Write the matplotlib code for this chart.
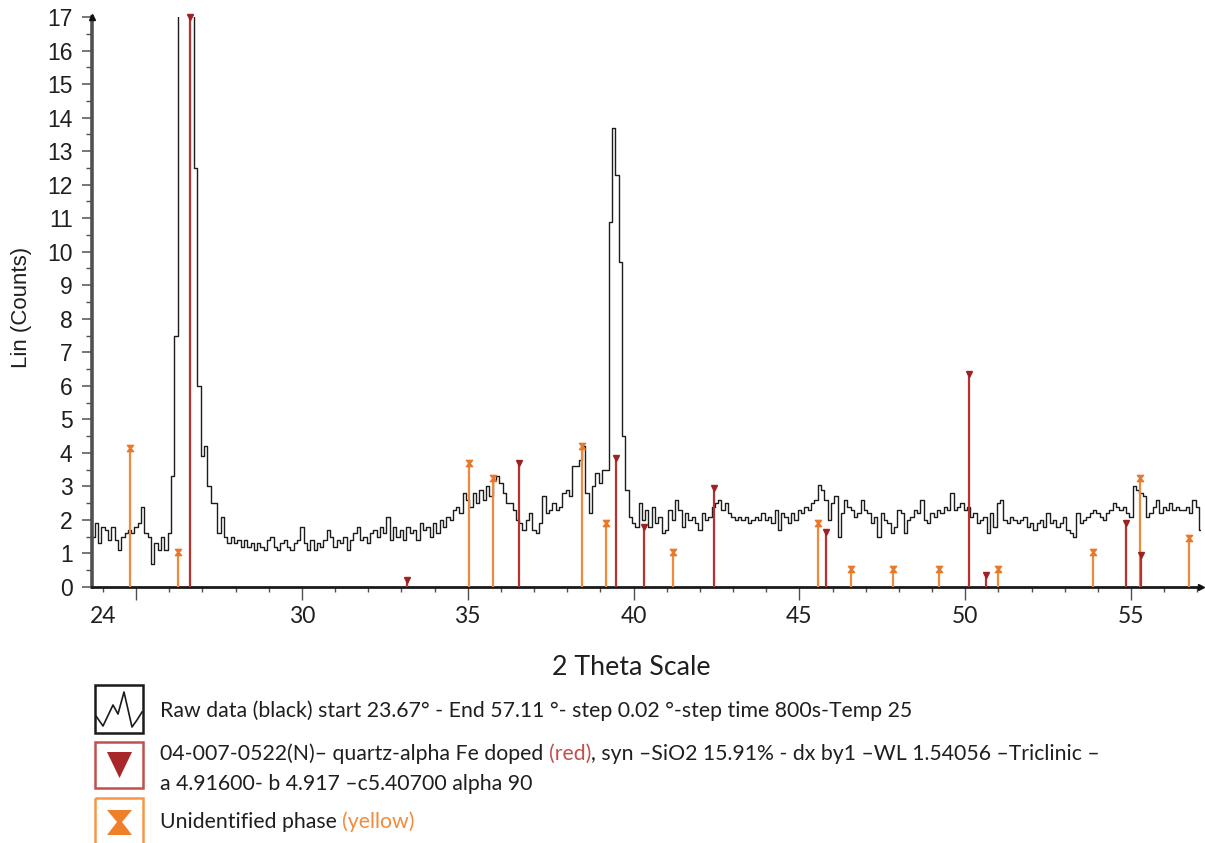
import numpy as np
import matplotlib
matplotlib.use("Agg")
import matplotlib.pyplot as plt
from matplotlib.path import Path
from matplotlib.patches import Rectangle, Polygon
from matplotlib.font_manager import FontProperties

W_PX, H_PX = 1205, 843

# ---------------------------------------------------------------- data
# Raw diffractogram, binned at 0.1 deg starting at 23.7 deg (one row per degree)
scan_start = 23.7
scan_step = 0.1
counts = [
    1.5, 1.9, 1.3,                                            # 23.7-23.9
    1.8, 1.7, 1.4, 1.8, 1.4, 1.1, 1.5, 1.6, 1.7, 1.6,         # 24
    1.8, 1.9, 2.4, 1.6, 1.5, 0.7, 1.3, 1.1, 1.5, 1.1,         # 25
    1.6, 3.3, 7.5, 20.0, 22.0, 22.0, 22.0, 20.0, 12.5, 6.0,   # 26
    3.9, 4.2, 3.0, 2.5, 2.5, 1.6, 2.1, 1.5, 1.3, 1.5,         # 27
    1.3, 1.4, 1.2, 1.4, 1.2, 1.3, 1.1, 1.3, 1.2, 1.1,         # 28
    1.4, 1.5, 1.2, 1.1, 1.3, 1.4, 1.2, 1.1, 1.3, 1.4,         # 29
    1.8, 1.3, 1.1, 1.4, 1.1, 1.3, 1.2, 1.4, 1.7, 1.5,         # 30
    1.2, 1.4, 1.3, 1.5, 1.1, 1.4, 1.6, 1.8, 1.4, 1.5,         # 31
    1.3, 1.6, 1.7, 1.5, 1.8, 1.6, 2.1, 1.4, 1.8, 1.5,         # 32
    1.7, 1.4, 1.8, 1.6, 1.7, 1.4, 1.9, 1.7, 1.8, 1.5,         # 33
    1.9, 1.6, 2.0, 1.8, 2.1, 2.0, 2.3, 2.4, 2.2, 2.8,         # 34
    2.6, 2.4, 2.8, 2.5, 2.9, 2.6, 3.0, 2.7, 3.2, 3.3,         # 35
    3.1, 2.8, 2.5, 2.5, 2.3, 2.0, 1.9, 1.7, 2.0, 2.2,         # 36
    1.7, 1.6, 1.9, 2.7, 2.2, 2.3, 2.5, 2.3, 2.4, 2.8,         # 37
    2.9, 2.7, 3.6, 3.6, 3.8, 4.2, 2.8, 2.2, 3.0, 3.4,         # 38
    3.1, 3.5, 3.5, 10.9, 13.7, 12.3, 9.7, 4.5, 2.9, 2.1,      # 39
    1.9, 1.8, 2.5, 2.0, 2.3, 1.8, 2.4, 1.9, 2.1, 1.6,         # 40
    1.7, 2.3, 2.0, 2.6, 2.3, 1.8, 2.2, 2.0, 2.1, 1.9,         # 41
    1.7, 2.2, 2.0, 2.1, 2.4, 2.5, 2.6, 2.3, 2.5, 2.2,         # 42
    2.1, 2.0, 2.1, 2.0, 2.1, 1.9, 2.0, 2.1, 2.0, 2.2,         # 43
    2.0, 2.1, 1.9, 2.3, 1.7, 2.2, 2.1, 1.9, 2.2, 2.0,         # 44
    2.3, 2.2, 2.4, 2.3, 2.5, 2.6, 3.05, 2.9, 2.6, 2.0,        # 45
    2.5, 2.7, 1.5, 2.2, 2.6, 2.4, 2.3, 2.1, 2.2, 2.6,         # 46
    2.3, 2.2, 1.9, 2.1, 1.5, 2.2, 2.0, 1.9, 1.6, 1.8,         # 47
    2.3, 2.2, 1.6, 2.0, 2.1, 2.3, 2.2, 2.6, 2.0, 1.9,         # 48
    2.2, 2.1, 2.3, 2.2, 2.4, 2.3, 2.8, 2.3, 2.4, 2.5,         # 49
    2.3, 2.4, 2.1, 2.2, 1.9, 2.0, 2.1, 1.6, 2.2, 1.8,         # 50
    2.5, 2.6, 2.0, 1.9, 2.1, 2.0, 1.9, 2.0, 2.1, 1.8,         # 51
    1.9, 1.7, 1.9, 2.0, 1.8, 2.2, 1.9, 2.0, 1.8, 1.9,         # 52
    2.1, 1.7, 1.6, 1.5, 2.2, 1.9, 2.0, 2.1, 2.2, 2.3,         # 53
    2.2, 2.1, 2.0, 2.2, 2.3, 2.5, 2.4, 2.3, 2.4, 2.2,         # 54
    2.1, 3.0, 2.9, 2.8, 2.7, 2.1, 2.2, 2.4, 2.6, 2.2,         # 55
    2.4, 2.3, 2.5, 2.3, 2.4, 2.3, 2.3, 2.4, 2.2, 2.6,         # 56
    2.4, 1.7,                                                 # 57.0-57.1
]

# Reference pattern 04-007-0522 (quartz-alpha, Fe doped): positions / heights
quartz_pos = [26.64, 33.16, 36.54, 39.48, 40.31, 42.42, 45.80, 50.11, 50.63, 54.85, 55.30]
quartz_int = [17.0, 0.2, 3.7, 3.85, 1.8, 2.95, 1.65, 6.35, 0.35, 1.9, 0.95]

# Unidentified phase sticks
unknown_pos = [24.82, 26.25, 35.03, 35.75, 38.44, 39.18, 41.18, 45.56, 46.55,
               47.82, 49.20, 50.99, 53.86, 55.27, 56.75]
unknown_int = [4.15, 1.05, 3.7, 3.25, 4.2, 1.9, 1.05, 1.9, 0.55,
               0.55, 0.55, 0.55, 1.05, 3.25, 1.45]

x_range = (23.67, 57.11)
y_range = (0, 17)
x_ticks = [24, 25, 30, 35, 40, 45, 50, 55]
x_tick_labels = ["24", "", "30", "35", "40", "45", "50", "55"]
y_ticks = list(range(0, 18))

legend_raw = "Raw data (black) start 23.67° - End 57.11 °- step 0.02 °-step time 800s-Temp 25"
legend_quartz_a = "04-007-0522(N)– quartz-alpha Fe doped "
legend_quartz_b = "(red)"
legend_quartz_c = ", syn –SiO2 15.91% - dx by1 –WL 1.54056 –Triclinic –"
legend_quartz_2 = "a 4.91600- b 4.917 –c5.40700 alpha 90"
legend_unknown_a = "Unidentified phase "
legend_unknown_b = "(yellow)"

# --------------------------------------------------------------- colours
C_CURVE = "#1c1c1c"
C_RED_LINE = "#b8312f"
C_RED_MARK = "#9e2222"
C_ORANGE_LINE = "#f08a3a"
C_ORANGE_MARK = "#e8782a"
C_TEXT = "#1f1f1f"
C_TXT_RED = "#c0504d"
C_TXT_ORANGE = "#f38b3c"

# --------------------------------------------------------------- figure
fig = plt.figure(figsize=(W_PX / 100, H_PX / 100), dpi=100)
fig.patch.set_facecolor("white")

ax_left, ax_right, ax_top, ax_bottom = 92, 1201, 17, 587
ax = fig.add_axes([ax_left / W_PX, 1 - ax_bottom / H_PX,
                   (ax_right - ax_left) / W_PX, (ax_bottom - ax_top) / H_PX])
ax.set_xlim(*x_range)
ax.set_ylim(*y_range)
ax.set_facecolor("none")

two_theta = scan_start + scan_step * np.arange(len(counts))
ax.plot(two_theta, counts, drawstyle="steps-mid", color=C_CURVE, lw=1.0, zorder=2)

hourglass = Path([(-1, 1), (1, 1), (0.18, 0), (1, -1), (-1, -1), (-0.18, 0), (-1, 1)],
                 [Path.MOVETO] + [Path.LINETO] * 5 + [Path.CLOSEPOLY])

ax.vlines(unknown_pos, 0, unknown_int, color=C_ORANGE_LINE, lw=1.6, zorder=3)
ax.plot(unknown_pos, unknown_int, ls="none", marker=hourglass, ms=4.5,
        color=C_ORANGE_MARK, zorder=4, clip_on=False)
ax.vlines(quartz_pos, 0, quartz_int, color=C_RED_LINE, lw=1.6, zorder=3)
ax.plot(quartz_pos, quartz_int, ls="none", marker="v", ms=5,
        color=C_RED_MARK, zorder=4, clip_on=False)

# spines and ticks
for s in ("top", "right"):
    ax.spines[s].set_visible(False)
ax.spines["left"].set_color("#505050")
ax.spines["left"].set_linewidth(2.6)
ax.spines["bottom"].set_color("#1a1a1a")
ax.spines["bottom"].set_linewidth(2.0)

ytick_fp = FontProperties(family="Liberation Sans", size=16.5)
xtick_fp = FontProperties(family="Lato", size=16.5)

ax.set_yticks(y_ticks)
ax.set_yticks(np.arange(0.5, 17, 1.0), minor=True)
ax.set_xticks(x_ticks)
ax.set_xticklabels(x_tick_labels)
ax.set_xticks(np.arange(24, 58, 1), minor=True)
ax.tick_params(axis="y", which="major", direction="out", length=7, width=1.1,
               color="#505050", pad=7, labelcolor=C_TEXT)
ax.tick_params(axis="y", which="minor", direction="out", length=4.5, width=1.0,
               color="#505050")
ax.tick_params(axis="x", which="major", direction="out", length=9, width=1.0,
               color="#505050", pad=5, labelcolor=C_TEXT)
ax.tick_params(axis="x", which="minor", direction="out", length=3.8, width=1.0,
               color="#505050")
for lab in ax.get_yticklabels():
    lab.set_fontproperties(ytick_fp)
for lab in ax.get_xticklabels():
    lab.set_fontproperties(xtick_fp)
# the first labelled position carries only a short tick
ax.xaxis.get_major_ticks()[0].tick1line.set_markersize(3.8)

# axis arrow heads
ax.plot([0], [1], transform=ax.transAxes, marker="^", ms=5, color="#111111",
        clip_on=False, zorder=5)
ax.plot([1], [0], transform=ax.transAxes, marker=">", ms=5, color="#111111",
        clip_on=False, zorder=5)

# ------------------------------------------------------------ overlay
lax = fig.add_axes([0, 0, 1, 1], zorder=-1)
lax.set_xlim(0, W_PX)
lax.set_ylim(H_PX, 0)
lax.axis("off")

renderer = fig.canvas.get_renderer()


def text_width(s, fp):
    t = fig.text(0, 0, s, fontproperties=fp)
    w = t.get_window_extent(renderer=renderer).width
    t.remove()
    return w


def draw_runs(x0, y_base, runs, fp):
    acc = ""
    for s, color in runs:
        acc += s
        x = x0 + text_width(acc, fp) - text_width(s, fp)
        lax.text(x, y_base, s, color=color, fontproperties=fp,
                 ha="left", va="baseline")


# axis titles
ylab_fp = FontProperties(family="Liberation Sans", size=16)
lax.text(22, 307, "Lin (Counts)", rotation=90, ha="center", va="center",
         fontproperties=ylab_fp, color=C_TEXT)

base_fp = FontProperties(family="Lato", size=10)
xlab_size = 10 * 158 / text_width("2 Theta Scale", base_fp)
xlab_fp = FontProperties(family="Lato", size=xlab_size)
lax.text(631, 675, "2 Theta Scale", ha="center", va="baseline",
         fontproperties=xlab_fp, color=C_TEXT)

# legend
leg_size = 10 * 750 / text_width(legend_raw, base_fp)
leg_fp = FontProperties(family="Lato", size=leg_size)
tx = 160
draw_runs(tx, 717, [(legend_raw, C_TEXT)], leg_fp)
draw_runs(tx, 760, [(legend_quartz_a, C_TEXT), (legend_quartz_b, C_TXT_RED),
                    (legend_quartz_c, C_TEXT)], leg_fp)
draw_runs(tx, 790, [(legend_quartz_2, C_TEXT)], leg_fp)
draw_runs(tx, 828, [(legend_unknown_a, C_TEXT), (legend_unknown_b, C_TXT_ORANGE)], leg_fp)

# legend symbols
lax.add_patch(Rectangle((95, 685), 48, 48, fill=False, ec="#1a1a1a", lw=1.8))
lax.plot([96, 103, 113, 118, 124, 132, 137, 142],
         [716, 726, 705, 714, 692, 727, 720, 712], color="#1a1a1a", lw=1.2)
lax.add_patch(Rectangle((95, 742), 48, 46, fill=False, ec="#c0504d", lw=1.8))
lax.add_patch(Polygon([(107, 752), (132, 752), (119.5, 778)], closed=True,
                      fc="#a8282a", ec="none"))
lax.add_patch(Rectangle((95, 798), 48, 52, fill=False, ec="#f79646", lw=1.8))
lax.add_patch(Polygon([(107, 810), (132, 810), (122, 822), (132, 835),
                       (107, 835), (117, 822)], closed=True, fc="#f07f2a", ec="none"))

fig.savefig("out.png", dpi=100, facecolor="white")
